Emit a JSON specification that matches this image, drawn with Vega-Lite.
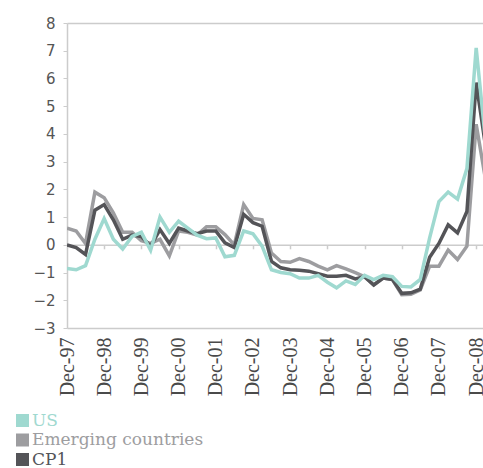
{
  "$schema": "https://vega.github.io/schema/vega-lite/v6.json",
  "width": 416,
  "height": 305,
  "autosize": "none",
  "padding": {"left": 67, "top": 23, "right": 0, "bottom": 140},
  "background": "white",
  "config": {"view": {"stroke": null}},
  "data": {"values": [
    {"date": "1997-12-01", "series": "Emerging countries", "value": 0.6},
    {"date": "1998-03-01", "series": "Emerging countries", "value": 0.5},
    {"date": "1998-06-01", "series": "Emerging countries", "value": 0.05},
    {"date": "1998-09-01", "series": "Emerging countries", "value": 1.9},
    {"date": "1998-12-01", "series": "Emerging countries", "value": 1.7},
    {"date": "1999-03-01", "series": "Emerging countries", "value": 1.15},
    {"date": "1999-06-01", "series": "Emerging countries", "value": 0.45},
    {"date": "1999-09-01", "series": "Emerging countries", "value": 0.45},
    {"date": "1999-12-01", "series": "Emerging countries", "value": 0.15},
    {"date": "2000-03-01", "series": "Emerging countries", "value": 0.05},
    {"date": "2000-06-01", "series": "Emerging countries", "value": 0.2},
    {"date": "2000-09-01", "series": "Emerging countries", "value": -0.4},
    {"date": "2000-12-01", "series": "Emerging countries", "value": 0.5},
    {"date": "2001-03-01", "series": "Emerging countries", "value": 0.45},
    {"date": "2001-06-01", "series": "Emerging countries", "value": 0.35},
    {"date": "2001-09-01", "series": "Emerging countries", "value": 0.65},
    {"date": "2001-12-01", "series": "Emerging countries", "value": 0.65},
    {"date": "2002-03-01", "series": "Emerging countries", "value": 0.37},
    {"date": "2002-06-01", "series": "Emerging countries", "value": 0.0},
    {"date": "2002-09-01", "series": "Emerging countries", "value": 1.45},
    {"date": "2002-12-01", "series": "Emerging countries", "value": 0.95},
    {"date": "2003-03-01", "series": "Emerging countries", "value": 0.9},
    {"date": "2003-06-01", "series": "Emerging countries", "value": -0.3},
    {"date": "2003-09-01", "series": "Emerging countries", "value": -0.6},
    {"date": "2003-12-01", "series": "Emerging countries", "value": -0.63},
    {"date": "2004-03-01", "series": "Emerging countries", "value": -0.5},
    {"date": "2004-06-01", "series": "Emerging countries", "value": -0.6},
    {"date": "2004-09-01", "series": "Emerging countries", "value": -0.77},
    {"date": "2004-12-01", "series": "Emerging countries", "value": -0.9},
    {"date": "2005-03-01", "series": "Emerging countries", "value": -0.75},
    {"date": "2005-06-01", "series": "Emerging countries", "value": -0.87},
    {"date": "2005-09-01", "series": "Emerging countries", "value": -1.0},
    {"date": "2005-12-01", "series": "Emerging countries", "value": -1.15},
    {"date": "2006-03-01", "series": "Emerging countries", "value": -1.45},
    {"date": "2006-06-01", "series": "Emerging countries", "value": -1.2},
    {"date": "2006-09-01", "series": "Emerging countries", "value": -1.25},
    {"date": "2006-12-01", "series": "Emerging countries", "value": -1.8},
    {"date": "2007-03-01", "series": "Emerging countries", "value": -1.78},
    {"date": "2007-06-01", "series": "Emerging countries", "value": -1.63},
    {"date": "2007-09-01", "series": "Emerging countries", "value": -0.77},
    {"date": "2007-12-01", "series": "Emerging countries", "value": -0.77},
    {"date": "2008-03-01", "series": "Emerging countries", "value": -0.19},
    {"date": "2008-06-01", "series": "Emerging countries", "value": -0.53},
    {"date": "2008-09-01", "series": "Emerging countries", "value": -0.05},
    {"date": "2008-12-01", "series": "Emerging countries", "value": 4.35},
    {"date": "2009-03-01", "series": "Emerging countries", "value": 2.4},
    {"date": "1997-12-01", "series": "CP1", "value": 0.0},
    {"date": "1998-03-01", "series": "CP1", "value": -0.1},
    {"date": "1998-06-01", "series": "CP1", "value": -0.35},
    {"date": "1998-09-01", "series": "CP1", "value": 1.25},
    {"date": "1998-12-01", "series": "CP1", "value": 1.45},
    {"date": "1999-03-01", "series": "CP1", "value": 0.9},
    {"date": "1999-06-01", "series": "CP1", "value": 0.2},
    {"date": "1999-09-01", "series": "CP1", "value": 0.35},
    {"date": "1999-12-01", "series": "CP1", "value": 0.3},
    {"date": "2000-03-01", "series": "CP1", "value": -0.05},
    {"date": "2000-06-01", "series": "CP1", "value": 0.55},
    {"date": "2000-09-01", "series": "CP1", "value": 0.05},
    {"date": "2000-12-01", "series": "CP1", "value": 0.6},
    {"date": "2001-03-01", "series": "CP1", "value": 0.5},
    {"date": "2001-06-01", "series": "CP1", "value": 0.4},
    {"date": "2001-09-01", "series": "CP1", "value": 0.5},
    {"date": "2001-12-01", "series": "CP1", "value": 0.5},
    {"date": "2002-03-01", "series": "CP1", "value": 0.07},
    {"date": "2002-06-01", "series": "CP1", "value": -0.1},
    {"date": "2002-09-01", "series": "CP1", "value": 1.1},
    {"date": "2002-12-01", "series": "CP1", "value": 0.8},
    {"date": "2003-03-01", "series": "CP1", "value": 0.67},
    {"date": "2003-06-01", "series": "CP1", "value": -0.6},
    {"date": "2003-09-01", "series": "CP1", "value": -0.83},
    {"date": "2003-12-01", "series": "CP1", "value": -0.9},
    {"date": "2004-03-01", "series": "CP1", "value": -0.92},
    {"date": "2004-06-01", "series": "CP1", "value": -0.95},
    {"date": "2004-09-01", "series": "CP1", "value": -1.04},
    {"date": "2004-12-01", "series": "CP1", "value": -1.13},
    {"date": "2005-03-01", "series": "CP1", "value": -1.13},
    {"date": "2005-06-01", "series": "CP1", "value": -1.1},
    {"date": "2005-09-01", "series": "CP1", "value": -1.23},
    {"date": "2005-12-01", "series": "CP1", "value": -1.15},
    {"date": "2006-03-01", "series": "CP1", "value": -1.45},
    {"date": "2006-06-01", "series": "CP1", "value": -1.2},
    {"date": "2006-09-01", "series": "CP1", "value": -1.25},
    {"date": "2006-12-01", "series": "CP1", "value": -1.75},
    {"date": "2007-03-01", "series": "CP1", "value": -1.73},
    {"date": "2007-06-01", "series": "CP1", "value": -1.6},
    {"date": "2007-09-01", "series": "CP1", "value": -0.45},
    {"date": "2007-12-01", "series": "CP1", "value": 0.05},
    {"date": "2008-03-01", "series": "CP1", "value": 0.72},
    {"date": "2008-06-01", "series": "CP1", "value": 0.43},
    {"date": "2008-09-01", "series": "CP1", "value": 1.2},
    {"date": "2008-12-01", "series": "CP1", "value": 5.85},
    {"date": "2009-03-01", "series": "CP1", "value": 3.6},
    {"date": "1997-12-01", "series": "US", "value": -0.85},
    {"date": "1998-03-01", "series": "US", "value": -0.9},
    {"date": "1998-06-01", "series": "US", "value": -0.75},
    {"date": "1998-09-01", "series": "US", "value": 0.2},
    {"date": "1998-12-01", "series": "US", "value": 0.95},
    {"date": "1999-03-01", "series": "US", "value": 0.2},
    {"date": "1999-06-01", "series": "US", "value": -0.15},
    {"date": "1999-09-01", "series": "US", "value": 0.3},
    {"date": "1999-12-01", "series": "US", "value": 0.45},
    {"date": "2000-03-01", "series": "US", "value": -0.2},
    {"date": "2000-06-01", "series": "US", "value": 1.0},
    {"date": "2000-09-01", "series": "US", "value": 0.45},
    {"date": "2000-12-01", "series": "US", "value": 0.85},
    {"date": "2001-03-01", "series": "US", "value": 0.6},
    {"date": "2001-06-01", "series": "US", "value": 0.35},
    {"date": "2001-09-01", "series": "US", "value": 0.22},
    {"date": "2001-12-01", "series": "US", "value": 0.25},
    {"date": "2002-03-01", "series": "US", "value": -0.43},
    {"date": "2002-06-01", "series": "US", "value": -0.38},
    {"date": "2002-09-01", "series": "US", "value": 0.5},
    {"date": "2002-12-01", "series": "US", "value": 0.4},
    {"date": "2003-03-01", "series": "US", "value": -0.05},
    {"date": "2003-06-01", "series": "US", "value": -0.9},
    {"date": "2003-09-01", "series": "US", "value": -1.0},
    {"date": "2003-12-01", "series": "US", "value": -1.04},
    {"date": "2004-03-01", "series": "US", "value": -1.2},
    {"date": "2004-06-01", "series": "US", "value": -1.2},
    {"date": "2004-09-01", "series": "US", "value": -1.1},
    {"date": "2004-12-01", "series": "US", "value": -1.35},
    {"date": "2005-03-01", "series": "US", "value": -1.55},
    {"date": "2005-06-01", "series": "US", "value": -1.3},
    {"date": "2005-09-01", "series": "US", "value": -1.43},
    {"date": "2005-12-01", "series": "US", "value": -1.1},
    {"date": "2006-03-01", "series": "US", "value": -1.25},
    {"date": "2006-06-01", "series": "US", "value": -1.1},
    {"date": "2006-09-01", "series": "US", "value": -1.15},
    {"date": "2006-12-01", "series": "US", "value": -1.5},
    {"date": "2007-03-01", "series": "US", "value": -1.52},
    {"date": "2007-06-01", "series": "US", "value": -1.25},
    {"date": "2007-09-01", "series": "US", "value": 0.25},
    {"date": "2007-12-01", "series": "US", "value": 1.56},
    {"date": "2008-03-01", "series": "US", "value": 1.9},
    {"date": "2008-06-01", "series": "US", "value": 1.65},
    {"date": "2008-09-01", "series": "US", "value": 2.75},
    {"date": "2008-12-01", "series": "US", "value": 7.1},
    {"date": "2009-03-01", "series": "US", "value": 3.8}
  ]},
  "layer": [
    {
      "mark": {"type": "line", "strokeWidth": 3.5, "clip": true, "strokeJoin": "miter"},
      "encoding": {
        "x": {
          "field": "date", "type": "temporal",
          "scale": {"type": "utc", "domain": [{"year": 1997, "month": 12, "date": 1, "utc": true}, {"year": 2009, "month": 2, "date": 6, "utc": true}], "nice": false},
          "axis": {
            "title": null, "orient": "bottom",
            "values": [
              {"year": 1997, "month": 12, "date": 1, "utc": true},
              {"year": 1998, "month": 12, "date": 1, "utc": true},
              {"year": 1999, "month": 12, "date": 1, "utc": true},
              {"year": 2000, "month": 12, "date": 1, "utc": true},
              {"year": 2001, "month": 12, "date": 1, "utc": true},
              {"year": 2002, "month": 12, "date": 1, "utc": true},
              {"year": 2003, "month": 12, "date": 1, "utc": true},
              {"year": 2004, "month": 12, "date": 1, "utc": true},
              {"year": 2005, "month": 12, "date": 1, "utc": true},
              {"year": 2006, "month": 12, "date": 1, "utc": true},
              {"year": 2007, "month": 12, "date": 1, "utc": true},
              {"year": 2008, "month": 12, "date": 1, "utc": true}
            ],
            "format": "%b-%y", "labelAngle": -90, "labelFont": "Liberation Serif", "labelFontSize": 20,
            "labelColor": "#4a4a4a", "ticks": false, "tickSize": 0, "labelPadding": 9,
            "domain": true, "domainColor": "#cccccc", "domainWidth": 1.5, "grid": false,
            "labelOverlap": false, "labelFlush": false
          }
        },
        "y": {
          "field": "value", "type": "quantitative",
          "scale": {"domain": [-3, 8], "nice": false, "zero": false},
          "axis": {
            "title": null, "tickCount": 11,
            "labelFont": "DejaVu Sans", "labelFontSize": 15, "labelColor": "#555555",
            "labelOverlap": false, "labelFlush": false, "labelBound": false,
            "tickSize": 4, "tickColor": "#cccccc", "labelPadding": 8,
            "domainColor": "#cccccc", "domainWidth": 1.5,
            "grid": true, "gridWidth": 1.5,
            "gridColor": {"condition": {"test": "datum.value === 8", "value": "#cccccc"}, "value": "transparent"}
          }
        },
        "color": {
          "field": "series", "type": "nominal",
          "scale": {"domain": ["US", "Emerging countries", "CP1"], "range": ["#9fd9d0", "#9d9da0", "#545458"]},
          "legend": {
            "title": null, "orient": "none", "legendX": -53, "legendY": 389,
            "padding": 0, "rowPadding": 1.5, "labelOffset": 1, "labelLimit": 0,
            "labelFont": "DejaVu Serif", "labelFontSize": 17,
            "symbolType": "square", "symbolSize": 169,
            "encode": {
              "labels": {"update": {"fill": {"signal": "scale('color', datum.value)"}}},
              "symbols": {"update": {"fill": {"signal": "scale('color', datum.value)"}, "stroke": {"value": "transparent"}, "strokeWidth": {"value": 0}}}
            }
          }
        }
      }
    },
    {
      "mark": {"type": "rule", "opacity": 0},
      "encoding": {
        "x": {
          "field": "date", "type": "temporal",
          "axis": {
            "title": null, "orient": "bottom", "offset": -83.2, "labels": false,
            "values": [
              {"year": 1998, "month": 12, "date": 1, "utc": true},
              {"year": 1999, "month": 12, "date": 1, "utc": true},
              {"year": 2000, "month": 12, "date": 1, "utc": true},
              {"year": 2001, "month": 12, "date": 1, "utc": true},
              {"year": 2002, "month": 12, "date": 1, "utc": true},
              {"year": 2003, "month": 12, "date": 1, "utc": true},
              {"year": 2004, "month": 12, "date": 1, "utc": true},
              {"year": 2005, "month": 12, "date": 1, "utc": true},
              {"year": 2006, "month": 12, "date": 1, "utc": true},
              {"year": 2007, "month": 12, "date": 1, "utc": true},
              {"year": 2008, "month": 12, "date": 1, "utc": true}
            ],
            "ticks": true, "tickSize": 4, "tickColor": "#cccccc", "tickWidth": 1.5,
            "domain": true, "domainColor": "#cccccc", "domainWidth": 1.5, "grid": false
          }
        }
      }
    }
  ],
  "resolve": {"axis": {"x": "independent"}}
}
